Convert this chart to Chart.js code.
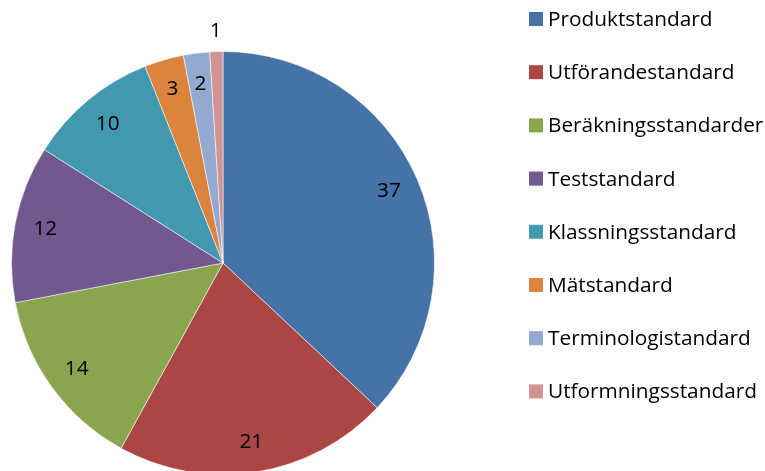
<!DOCTYPE html>
<html>
<head>
<meta charset="utf-8">
<script src="https://cdn.jsdelivr.net/npm/chart.js@4.4.1/dist/chart.umd.min.js"></script>
<style>
  html, body { margin: 0; padding: 0; background: #ffffff; overflow: hidden; }
  #wrap { position: relative; width: 765px; height: 471px; overflow: hidden; }
  canvas { display: block; }
</style>
</head>
<body>
<div id="wrap"><canvas id="c" width="765" height="490"></canvas></div>
<script>
const categories = [
  "Produktstandard",
  "Utförandestandard",
  "Beräkningsstandarder",
  "Teststandard",
  "Klassningsstandard",
  "Mätstandard",
  "Terminologistandard",
  "Utformningsstandard"
];
const counts = [37, 21, 14, 12, 10, 3, 2, 1];
const sliceColors = ["#4572A7", "#AA4643", "#89A54E", "#71588F", "#4198AF", "#DB843D", "#93A9CF", "#D19392"];

const FONT = '"Open Sans", "Liberation Sans", sans-serif';
const FONT_SIZE = 20.8;

const valueLabels = {
  id: 'valueLabels',
  afterDatasetsDraw(chart) {
    const ctx = chart.ctx;
    const meta = chart.getDatasetMeta(0);
    const ds = chart.data.datasets[0];
    const total = ds.data.reduce((a, b) => a + b, 0);
    ctx.save();
    ctx.font = FONT_SIZE + 'px ' + FONT;
    ctx.fillStyle = '#000000';
    ctx.textAlign = 'center';
    ctx.textBaseline = 'middle';
    meta.data.forEach((arc, i) => {
      const p = arc.getProps(['x', 'y', 'startAngle', 'endAngle', 'outerRadius'], true);
      const mid = (p.startAngle + p.endAngle) / 2;
      const share = ds.data[i] / total;
      const rr = share < 0.015 ? p.outerRadius + 21 : p.outerRadius * 0.855;
      const x = p.x + Math.cos(mid) * rr;
      const y = p.y + Math.sin(mid) * rr;
      ctx.fillText(String(ds.data[i]), x, y);
    });
    ctx.restore();
  }
};

const sideLegend = {
  id: 'sideLegend',
  afterDraw(chart) {
    const ctx = chart.ctx;
    const labels = chart.data.labels;
    const colors = chart.data.datasets[0].backgroundColor;
    const boxX = 529, textX = 548, firstY = 19, step = 53.2, box = 14;
    ctx.save();
    ctx.font = FONT_SIZE + 'px ' + FONT;
    ctx.textAlign = 'left';
    ctx.textBaseline = 'middle';
    labels.forEach((lab, i) => {
      const cy = firstY + i * step;
      ctx.fillStyle = colors[i];
      ctx.fillRect(boxX, cy - box / 2, box, box);
      ctx.fillStyle = '#000000';
      ctx.fillText(lab, textX, cy + 1);
    });
    ctx.restore();
  }
};

new Chart(document.getElementById('c'), {
  type: 'pie',
  data: {
    labels: categories,
    datasets: [{
      data: counts,
      backgroundColor: sliceColors,
      borderColor: 'rgba(255,255,255,0.55)',
      borderWidth: 1
    }]
  },
  options: {
    responsive: false,
    animation: false,
    devicePixelRatio: 1,
    layout: { padding: { left: 11, right: 330, top: 51, bottom: 15 } },
    plugins: {
      legend: { display: false },
      tooltip: { enabled: false },
      title: { display: false }
    }
  },
  plugins: [valueLabels, sideLegend]
});
</script>
</body>
</html>
